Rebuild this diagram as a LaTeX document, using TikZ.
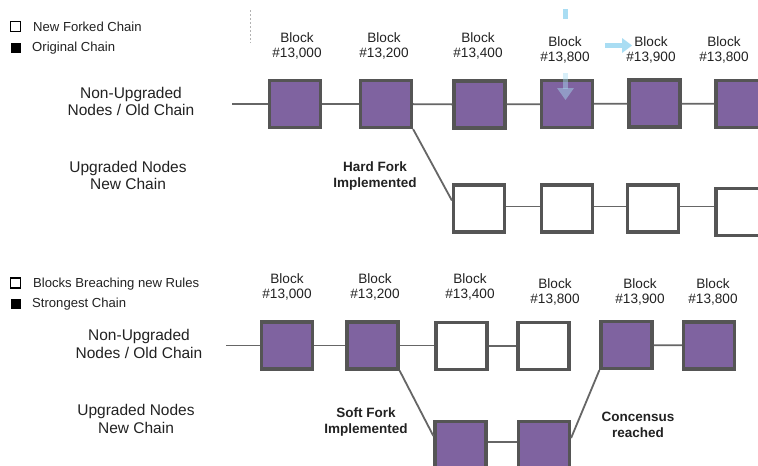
\documentclass[tikz,border=0pt]{standalone}
\usepackage{fontspec}
\setmainfont{Liberation Sans}
\usetikzlibrary{calc}

\definecolor{blockfill}{HTML}{7F63A0}
\definecolor{blockedge}{HTML}{555555}
\definecolor{linkgray}{HTML}{666666}
\definecolor{inktext}{HTML}{222222}
\definecolor{hintblue}{HTML}{A9DDF3}

\tikzset{
  chainblock/.style={draw=blockedge, line width=3.2pt, fill=blockfill,
    minimum width=51pt, minimum height=47pt, inner sep=0pt},
  openblock/.style={chainblock, fill=white},
  link/.style={draw=linkgray, line width=1.8pt},
  blocklabel/.style={align=center, text=inktext, inner sep=0pt,
    font=\fontsize{13.6pt}{15pt}\selectfont},
  rowlabel/.style={align=center, text=inktext, inner sep=0pt,
    font=\fontsize{15.5pt}{17.5pt}\selectfont},
  forklabel/.style={align=center, text=inktext, inner sep=0pt,
    font=\bfseries\fontsize{13.5pt}{16pt}\selectfont},
  legendtext/.style={anchor=west, text=inktext, inner sep=0pt,
    font=\fontsize{13.1pt}{14pt}\selectfont},
  legendbox/.style={minimum size=10pt, inner sep=0pt, line width=1.4pt},
}

\begin{document}
\begin{tikzpicture}[x=1pt, y=-1pt]
  \useasboundingbox (0,0) rectangle (758,466);
  \clip (0,0) rectangle (758,466);
  \fill[white] (0,0) rectangle (758,466);

  % ---------- hard fork ----------
  \node[legendbox, draw=black, fill=white] (lgA) at (15.5,26.5) {};
  \node[legendtext] (lgAt) at (33,27) {New Forked Chain};
  \node[legendbox, fill=black] (lgB) at (15.5,47.5) {};
  \node[legendtext] (lgBt) at (32,48) {Original Chain};

  \draw[gray!60, line width=0.8pt, dash pattern=on 2pt off 2pt] (250,10) -- (250,43);

  \node[rowlabel] (oldA) at (131,101.5) {Non-Upgraded\\Nodes / Old Chain};
  \node[rowlabel] (newA) at (128,175.5) {Upgraded Nodes\\New Chain};

  \node[chainblock] (t1) at (295,104) {};
  \node[chainblock] (t2) at (386,104) {};
  \node[chainblock] (t3) at (479.5,104.5) {};
  \node[chainblock] (t4) at (567,104) {};
  \node[chainblock] (t5) at (654.5,103.5) {};
  \node[chainblock] (t6) at (741.5,104) {};

  \node[blocklabel] (lt1) at (297,45.5) {Block\\\#13,000};
  \node[blocklabel] (lt2) at (384,45.5) {Block\\\#13,200};
  \node[blocklabel] (lt3) at (478,45.5) {Block\\\#13,400};
  \node[blocklabel] (lt4) at (565,49.5) {Block\\\#13,800};
  \node[blocklabel] (lt5) at (651,49.5) {Block\\\#13,900};
  \node[blocklabel] (lt6) at (724,49.5) {Block\\\#13,800};

  \node[openblock] (n1) at (479,208.5) {};
  \node[openblock] (n2) at (567,208.5) {};
  \node[openblock] (n3) at (653,208.5) {};
  \node[openblock, line width=3.8pt] (n4) at (741.5,212) {};

  \coordinate (startA) at (232,104);
  \draw[link] (startA) -- (t1.west);
  \draw[link] (t1) -- (t2);
  \draw[link] (t2) -- (t3);
  \draw[link] (t3) -- (t4);
  \draw[link] (t4) -- (t5);
  \draw[link] (t5) -- (t6);
  \draw[link] (t2.south east) -- ([yshift=8pt]n1.west);
  \draw[link] ([yshift=2pt]n1.east) -- ([yshift=2pt]n2.west);
  \draw[link] ([yshift=2pt]n2.east) -- ([yshift=2pt]n3.west);
  \draw[link] ([yshift=2pt]n3.east) -- ([yshift=2pt]n3.east -| n4.west);

  \node[forklabel] (hard) at (375,176) {Hard Fork\\Implemented};

  % faint pointer marks over the upper chain
  \fill[hintblue] (563,9) rectangle (568,19);
  \fill[hintblue] (605,43) rectangle (623,48);
  \fill[hintblue] (622,38) -- (632,45.5) -- (622,53) -- cycle;
  \fill[hintblue, opacity=0.45] (563,73) rectangle (568,89);
  \fill[hintblue, opacity=0.45] (557,88) -- (574,88) -- (565.5,100) -- cycle;

  % ---------- soft fork ----------
  \node[legendbox, draw=black, fill=white] (lgC) at (15.5,283) {};
  \node[legendtext] (lgCt) at (33,284) {Blocks Breaching new Rules};
  \node[legendbox, fill=black] (lgD) at (15.5,304) {};
  \node[legendtext] (lgDt) at (32,304.5) {Strongest Chain};

  \node[rowlabel] (oldB) at (139,344) {Non-Upgraded\\Nodes / Old Chain};
  \node[rowlabel] (newB) at (136,419) {Upgraded Nodes\\New Chain};

  \node[chainblock] (b1) at (287,345.5) {};
  \node[chainblock] (b2) at (372.5,345.5) {};
  \node[openblock] (b3) at (461.5,346) {};
  \node[openblock] (b4) at (543.5,346) {};
  \node[chainblock] (b5) at (626.5,345) {};
  \node[chainblock] (b6) at (709,345.5) {};

  \node[blocklabel] (lb1) at (287,286.5) {Block\\\#13,000};
  \node[blocklabel] (lb2) at (375,286.5) {Block\\\#13,200};
  \node[blocklabel] (lb3) at (470,286.5) {Block\\\#13,400};
  \node[blocklabel] (lb4) at (555,291.5) {Block\\\#13,800};
  \node[blocklabel] (lb5) at (640,291.5) {Block\\\#13,900};
  \node[blocklabel] (lb6) at (713,291.5) {Block\\\#13,800};

  \node[chainblock] (c1) at (460.5,445) {};
  \node[chainblock] (c2) at (544,445) {};

  \coordinate (startB) at (226,345.5);
  \draw[link] (startB) -- (b1.west);
  \draw[link] (b1) -- (b2);
  \draw[link] (b2.east) -- (b2.east -| b3.west);
  \draw[link] (b3) -- (b4);
  \draw[link] (b5) -- (b6);
  \draw[link] (b2.south east) -- ([yshift=9pt]c1.west);
  \draw[link] ([yshift=3pt]c1.east) -- ([yshift=3pt]c2.west);
  \draw[link] ([yshift=7pt]c2.east) -- (b5.south west);

  \node[forklabel] (soft) at (366,422) {Soft Fork\\Implemented};
  \node[forklabel] (agree) at (638,425) {Concensus\\reached};
\end{tikzpicture}
\end{document}
